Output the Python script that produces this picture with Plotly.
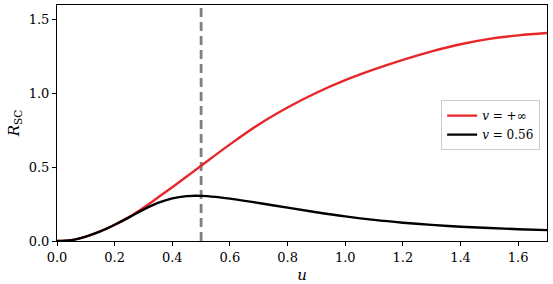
import plotly.graph_objects as go

# data
u_red = [0.0, 0.05, 0.1, 0.15, 0.2, 0.25, 0.3, 0.35, 0.4, 0.45, 0.5, 0.6, 0.7, 0.8, 0.9,
         1.0, 1.1, 1.2, 1.3, 1.4, 1.5, 1.6, 1.7]
r_red = [0.0, 0.006, 0.03, 0.065, 0.11, 0.162, 0.225, 0.295, 0.365, 0.437, 0.51, 0.655,
         0.79, 0.905, 1.005, 1.09, 1.163, 1.228, 1.286, 1.334, 1.370, 1.394, 1.41]

u_blk = [0.0, 0.05, 0.1, 0.15, 0.2, 0.25, 0.3, 0.35, 0.4, 0.45, 0.5, 0.55, 0.6, 0.7, 0.8,
         0.9, 1.0, 1.1, 1.2, 1.3, 1.4, 1.5, 1.6, 1.7]
r_blk = [0.0, 0.006, 0.03, 0.065, 0.11, 0.16, 0.213, 0.258, 0.289, 0.304, 0.306, 0.299,
         0.287, 0.258, 0.226, 0.195, 0.167, 0.143, 0.124, 0.109, 0.097, 0.088, 0.08, 0.074]

u_mark = 0.5
x_ticks = [0.0, 0.2, 0.4, 0.6, 0.8, 1.0, 1.2, 1.4, 1.6]
y_ticks = [0.0, 0.5, 1.0, 1.5]

font = "DejaVu Serif"

fig = go.Figure()
fig.add_trace(go.Scatter(x=u_red, y=r_red, mode="lines",
                         line=dict(color="#e8262a", width=2.4, shape="spline", smoothing=1.0),
                         name="<i>v</i> = +∞"))
fig.add_trace(go.Scatter(x=u_blk, y=r_blk, mode="lines",
                         line=dict(color="black", width=2.4, shape="spline", smoothing=1.0),
                         name="<i>v</i> = 0.56"))
fig.add_shape(type="line", x0=u_mark, x1=u_mark, y0=0, y1=1, xref="x", yref="paper",
              line=dict(color="#808080", width=2.8, dash="9px,5px"), layer="below")

fig.update_layout(
    width=553, height=284,
    margin=dict(l=57, r=6, t=5, b=43, autoexpand=False),
    paper_bgcolor="white", plot_bgcolor="white",
    font=dict(family=font, size=13, color="black"),
    showlegend=True,
    legend=dict(x=0.986, y=0.597, xanchor="right", yanchor="top",
                bgcolor="white", bordercolor="#cccccc", borderwidth=1,
                font=dict(family=font, size=12), itemwidth=30, tracegroupgap=0),
    xaxis=dict(range=[0, 1.7], tickvals=x_ticks, ticktext=[f"{t:.1f}" for t in x_ticks],
               showline=True, mirror=True, linecolor="black", linewidth=1, automargin=False,
               ticks="outside", ticklen=4, tickcolor="black", showgrid=False, zeroline=False,
               tickfont=dict(family=font, size=13),
               title=dict(text="<i>u</i>", standoff=7, font=dict(family=font, size=15))),
    yaxis=dict(range=[0, 1.6], tickvals=y_ticks, ticktext=[f"{t:.1f}" for t in y_ticks],
               showline=True, mirror=True, linecolor="black", linewidth=1, automargin=False,
               ticks="outside", ticklen=4, tickcolor="black", showgrid=False, zeroline=False,
               tickfont=dict(family=font, size=13),
               title=dict(text="<i>R</i><sub>SC</sub>", standoff=5, font=dict(family=font, size=15))),
)
fig.write_html("out.html")
